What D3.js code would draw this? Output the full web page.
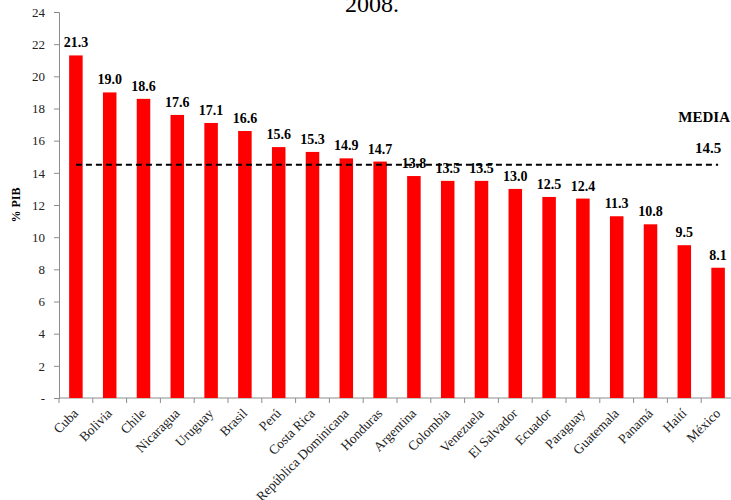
<!DOCTYPE html>
<html>
<head>
<meta charset="utf-8">
<script src="https://cdn.jsdelivr.net/npm/d3@7"></script>
<style>
  body { margin: 0; background: #fff; }
  svg { display: block; font-family: "Liberation Serif", "Times New Roman", serif; }
</style>
</head>
<body>
<svg width="731" height="500"></svg>
<script>
const countries = ["Cuba", "Bolivia", "Chile", "Nicaragua", "Uruguay", "Brasil", "Perú", "Costa Rica",
  "República Dominicana", "Honduras", "Argentina", "Colombia", "Venezuela", "El Salvador", "Ecuador",
  "Paraguay", "Guatemala", "Panamá", "Haití", "México"];
const values = [21.3, 19.0, 18.6, 17.6, 17.1, 16.6, 15.6, 15.3, 14.9, 14.7, 13.8, 13.5, 13.5, 13.0, 12.5,
  12.4, 11.3, 10.8, 9.5, 8.1];
const yTicks = [0, 2, 4, 6, 8, 10, 12, 14, 16, 18, 20, 22, 24];
const media = 14.5;

const svg = d3.select("svg");

const x = d3.scaleBand()
  .domain(countries)
  .range([59, 735])
  .paddingInner(0.6)
  .paddingOuter(0.3);

const y = d3.scaleLinear()
  .domain([0, 24])
  .range([398, 12]);

// title (partly off the top, as in the original)
svg.append("text")
  .attr("x", 372)
  .attr("y", 12)
  .attr("text-anchor", "middle")
  .attr("font-size", 24)
  .attr("fill", "#000")
  .text("2008.");

// y axis
const yAxis = svg.append("g")
  .attr("transform", "translate(59,0)")
  .call(d3.axisLeft(y)
    .tickValues(yTicks)
    .tickSize(5)
    .tickPadding(9)
    .tickFormat(d => d === 0 ? "-" : d));
yAxis.selectAll("path, line").attr("stroke", "#8c8c8c");
yAxis.selectAll("text")
  .attr("font-family", "Liberation Serif, serif")
  .attr("font-size", 13)
  .attr("fill", "#222");

svg.append("text")
  .attr("transform", "translate(20,205) rotate(-90)")
  .attr("text-anchor", "middle")
  .attr("font-size", 12)
  .attr("font-weight", "bold")
  .text("% PIB");

// x axis with ticks at category boundaries
const xAxisG = svg.append("g").attr("transform", "translate(0,398)");
xAxisG.append("line")
  .attr("x1", 59).attr("x2", 735)
  .attr("stroke", "#8c8c8c");
xAxisG.selectAll("line.tick")
  .data(countries)
  .enter().append("line")
  .attr("class", "tick")
  .attr("x1", d => x(d) - x.step() * x.paddingInner() / 2)
  .attr("x2", d => x(d) - x.step() * x.paddingInner() / 2)
  .attr("y1", 0).attr("y2", 5)
  .attr("stroke", "#8c8c8c");

xAxisG.selectAll("text")
  .data(countries)
  .enter().append("text")
  .attr("transform", d => "translate(" + (x(d) + x.bandwidth() / 2 - 4) + ",9) rotate(-45)")
  .attr("text-anchor", "end")
  .attr("dy", "0.75em")
  .attr("font-size", 13.5)
  .attr("fill", "#222")
  .text(d => d);

// bars
svg.append("g")
  .selectAll("rect")
  .data(countries)
  .enter().append("rect")
  .attr("x", d => x(d))
  .attr("width", x.bandwidth())
  .attr("y", (d, i) => y(values[i]))
  .attr("height", (d, i) => y(0) - y(values[i]))
  .attr("fill", "#ff0000");

// value labels
svg.append("g")
  .selectAll("text")
  .data(countries)
  .enter().append("text")
  .attr("x", d => x(d) + x.bandwidth() / 2)
  .attr("y", (d, i) => y(values[i]) - 8)
  .attr("text-anchor", "middle")
  .attr("font-size", 14)
  .attr("font-weight", "bold")
  .text((d, i) => values[i].toFixed(1));

// media line
svg.append("line")
  .attr("x1", x(countries[0]) + x.bandwidth() / 2)
  .attr("x2", x(countries[countries.length - 1]) + x.bandwidth() / 2)
  .attr("y1", y(media))
  .attr("y2", y(media))
  .attr("stroke", "#000")
  .attr("stroke-width", 2)
  .attr("stroke-dasharray", "6,4");

svg.append("text")
  .attr("x", 730)
  .attr("y", 122)
  .attr("text-anchor", "end")
  .attr("font-size", 15)
  .attr("font-weight", "bold")
  .text("MEDIA");

svg.append("text")
  .attr("x", 708)
  .attr("y", 153)
  .attr("text-anchor", "middle")
  .attr("font-size", 15)
  .attr("font-weight", "bold")
  .text(media.toFixed(1));
</script>
</body>
</html>
